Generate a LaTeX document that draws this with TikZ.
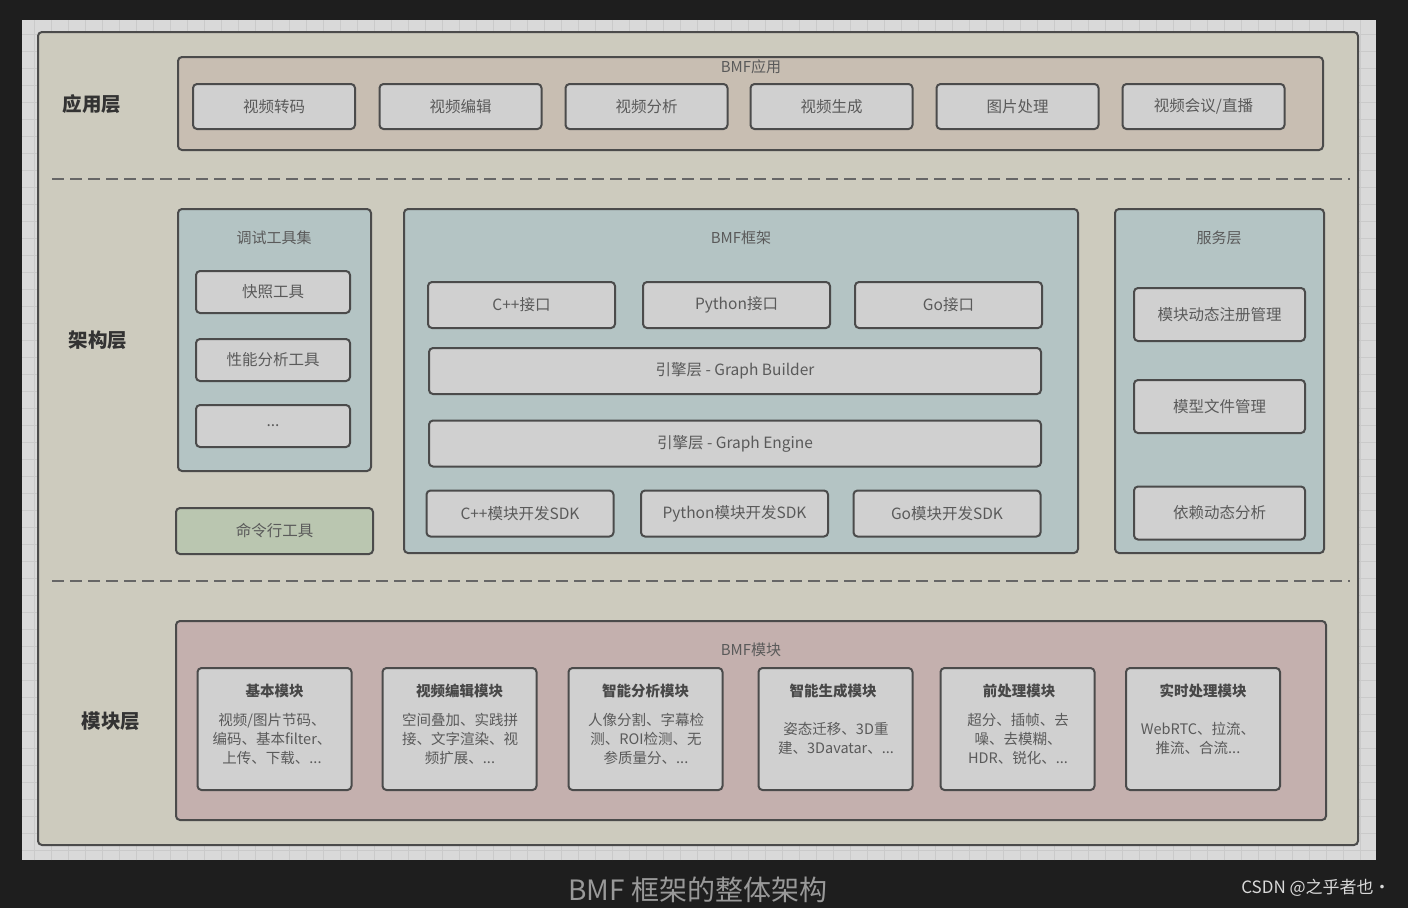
\documentclass[tikz,border=0pt]{standalone}
\usepackage{fontspec}
\setmainfont{Noto Sans CJK SC}
\usepackage{tikz}
\usetikzlibrary{positioning}

\definecolor{pagebg}{HTML}{1E1E1E}
\definecolor{canvasbg}{HTML}{D9D9D9}
\definecolor{gridcol}{HTML}{CACACA}
\definecolor{mainfill}{HTML}{CDCBBE}
\definecolor{appfill}{HTML}{C8BEB2}
\definecolor{tealfill}{HTML}{B4C4C4}
\definecolor{greenfill}{HTML}{BAC6B0}
\definecolor{pinkfill}{HTML}{C4B0AE}
\definecolor{boxfill}{HTML}{D0D0D0}
\definecolor{edgecol}{HTML}{4B4B4B}
\definecolor{textcol}{HTML}{5A5A5A}

\begin{document}
\begin{tikzpicture}[x=1pt,y=-1pt,
        every node/.style={inner sep=0pt, outer sep=0pt},
        frame/.style={draw=edgecol, line width=2pt, rounded corners=4pt},
        box/.style={frame, fill=boxfill, text=textcol, font=\fontsize{15.5}{18}\selectfont},
        appbox/.style={box, minimum width=162pt, minimum height=45pt},
        toolbox/.style={box, minimum width=154pt, minimum height=42pt},
        ifbox/.style={box, minimum width=187pt, minimum height=46pt},
        widebox/.style={box, minimum width=612pt, minimum height=46pt},
        svcbox/.style={box, minimum width=171pt, minimum height=53pt},
        modbox/.style={box, minimum width=154pt, minimum height=122pt},
        modtitle/.style={text=textcol!80!black, font=\bfseries\fontsize{14.5}{18}\selectfont},
        modbody/.style={text=textcol, align=center, font=\fontsize{14.5}{19}\selectfont},
        title/.style={text=textcol, font=\fontsize{15}{18}\selectfont},
        layer/.style={text=black!80, font=\bfseries\fontsize{19.5}{22}\selectfont},
        sep/.style={draw=black!60, line width=2.5pt, dash pattern=on 12pt off 6pt}]

    % page and canvas
    \useasboundingbox (0,0) rectangle (1408,908);
    \fill[pagebg] (0,0) rectangle (1408,908);
    \fill[canvasbg] (22,20) rectangle (1376,860);
    \draw[gridcol, line width=0.8pt, step=17pt] (22,20) grid (1376,860);
    \node[frame, fill=mainfill, minimum width=1320pt, minimum height=813pt] (main) at (698,438.5) {};

    % layer names
    \node[layer] (L1) at (92,104) {应用层};
    \node[layer] (L2) at (98,340) {架构层};
    \node[layer] (L3) at (111,721) {模块层};

    \coordinate (s1a) at (52,179);
    \coordinate (s1b) at (1350,179);
    \coordinate (s2a) at (52,581);
    \coordinate (s2b) at (1350,581);
    \draw[sep] (s1a) -- (s1b);
    \draw[sep] (s2a) -- (s2b);

    % application layer
    \node[frame, fill=appfill, minimum width=1145pt, minimum height=93pt] (app) at (750.5,103.5) {};
    \node[title] (appT) at (751,67) {BMF应用};
    \node[appbox] (a1) at (274,106.5) {视频转码};
    \node[appbox] (a2) at (460.5,106.5) {视频编辑};
    \node[appbox] (a3) at (646.5,106.5) {视频分析};
    \node[appbox] (a4) at (831.5,106.5) {视频生成};
    \node[appbox] (a5) at (1017.5,106.5) {图片处理};
    \node[appbox] (a6) at (1203.5,106.5) {视频会议/直播};

    % debug tools
    \node[frame, fill=tealfill, minimum width=193pt, minimum height=262pt] (dbg) at (274.5,340) {};
    \node[title] (dbgT) at (274,238) {调试工具集};
    \node[toolbox] (d1) at (273,292) {快照工具};
    \node[toolbox] (d2) at (273,360) {性能分析工具};
    \node[toolbox] (d3) at (273,426) {...};
    \node[frame, fill=greenfill, text=textcol, font=\fontsize{15.5}{18}\selectfont,
          minimum width=197pt, minimum height=46pt] (cli) at (274.5,531) {命令行工具};

    % framework
    \node[frame, fill=tealfill, minimum width=674pt, minimum height=344pt] (fw) at (741,381) {};
    \node[title] (fwT) at (741,238) {BMF框架};
    \node[ifbox] (f1) at (521.5,305) {C++接口};
    \node[ifbox] (f2) at (736.5,305) {Python接口};
    \node[ifbox] (f3) at (948.5,305) {Go接口};
    \node[widebox] (gb) at (735,371) {引擎层 - Graph Builder};
    \node[widebox] (ge) at (735,443.5) {引擎层 - Graph Engine};
    \node[ifbox] (k1) at (520,513.5) {C++模块开发SDK};
    \node[ifbox] (k2) at (734.5,513.5) {Python模块开发SDK};
    \node[ifbox] (k3) at (947,513.5) {Go模块开发SDK};

    % service layer
    \node[frame, fill=tealfill, minimum width=209pt, minimum height=344pt] (svc) at (1219.5,381) {};
    \node[title] (svcT) at (1219,238) {服务层};
    \node[svcbox] (v1) at (1219.5,314.5) {模块动态注册管理};
    \node[svcbox] (v2) at (1219.5,406.5) {模型文件管理};
    \node[svcbox] (v3) at (1219.5,513) {依赖动态分析};

    % module layer
    \node[frame, fill=pinkfill, minimum width=1150pt, minimum height=199pt] (mod) at (751,720.5) {};
    \node[title] (modT) at (751,650) {BMF模块};
    \node[modbox] (m1) at (274.5,729) {};
    \node[modbox] (m2) at (459.5,729) {};
    \node[modbox] (m3) at (645.5,729) {};
    \node[modbox] (m4) at (835.5,729) {};
    \node[modbox] (m5) at (1017.5,729) {};
    \node[modbox] (m6) at (1203,729) {};
    \node[modtitle] (m1t) at (274.5,691) {基本模块};
    \node[modtitle] (m2t) at (459.5,691) {视频编辑模块};
    \node[modtitle] (m3t) at (645.5,691) {智能分析模块};
    \node[modtitle] (m4t) at (833,691) {智能生成模块};
    \node[modtitle] (m5t) at (1019,691) {前处理模块};
    \node[modtitle] (m6t) at (1203,691) {实时处理模块};
    \node[modbody] (m1b) at (272,739) {视频/图片节码、\\编码、基本filter、\\上传、下载、...};
    \node[modbody] (m2b) at (460,739) {空间叠加、实践拼\\接、文字渲染、视\\频扩展、...};
    \node[modbody] (m3b) at (646,739) {人像分割、字幕检\\测、ROI检测、无\\参质量分、...};
    \node[modbody] (m4b) at (836,738) {姿态迁移、3D重\\建、3Davatar、...};
    \node[modbody] (m5b) at (1018,739) {超分、插帧、去\\噪、去模糊、\\HDR、锐化、...};
    \node[modbody] (m6b) at (1198,738) {WebRTC、拉流、\\推流、合流...};

    % caption
    \node[text=black!40, font=\fontsize{28}{32}\selectfont] (cap) at (698,890) {BMF 框架的整体架构};
    \node[text=black!15, font=\fontsize{17}{20}\selectfont] (src) at (1316,888) {CSDN @之乎者也·};

\end{tikzpicture}
\end{document}
